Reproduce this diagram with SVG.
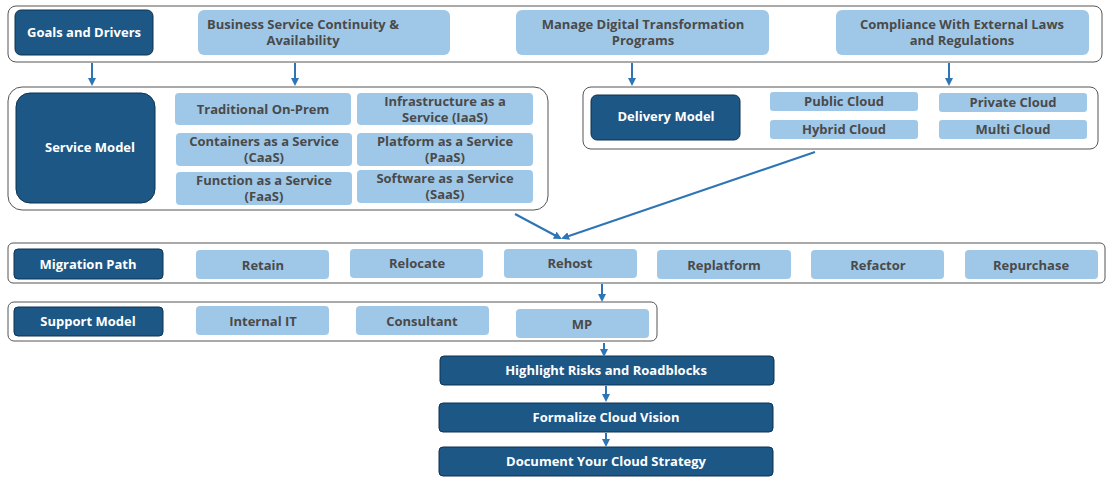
<svg xmlns="http://www.w3.org/2000/svg" width="1107" height="480" viewBox="0 0 1107 480">
<style>
.c{fill:#fff;stroke:#555;stroke-width:1}
.d{fill:#1d5786;stroke:#0f3350;stroke-width:1}
.l{fill:#9fc8e8}
text{font-family:"Open Sans","Liberation Sans",sans-serif;font-weight:bold;font-size:13px;text-anchor:middle}
.dt{fill:#fff}
.lt{fill:#4a4a4a}
.a{stroke:#2e75b6;stroke-width:2;fill:none;marker-end:url(#ah)}
</style>
<defs><marker id="ah" markerWidth="8" markerHeight="8" refX="6" refY="4" orient="auto" markerUnits="userSpaceOnUse"><path d="M0,0 L8,4 L0,8 z" fill="#2e75b6"/></marker></defs>
<rect x="0" y="0" width="1107" height="480" fill="#fff"/>
<g id="goals"><rect class="c" x="8" y="6" width="1094" height="56" rx="8"/>
<rect class="d" x="15" y="10" width="138" height="45" rx="6"/><text class="dt" x="84" y="37">Goals and Drivers</text>
<rect class="l" x="198" y="10" width="252" height="45" rx="6"/><text class="lt" x="303" y="29">Business Service Continuity &amp;</text><text class="lt" x="303" y="45">Availability</text>
<rect class="l" x="516" y="10" width="253" height="45" rx="6"/><text class="lt" x="643" y="29">Manage Digital Transformation</text><text class="lt" x="643" y="45">Programs</text>
<rect class="l" x="836" y="10" width="253" height="45" rx="6"/><text class="lt" x="962" y="29">Compliance With External Laws</text><text class="lt" x="962" y="45">and Regulations</text></g>
<g id="service"><rect class="c" x="8" y="87" width="540" height="123" rx="14"/>
<rect class="d" x="16" y="93" width="139" height="110" rx="14"/><text class="dt" x="90" y="152">Service Model</text>
<rect class="l" x="175" y="93" width="176" height="32" rx="4"/><text class="lt" x="263" y="114">Traditional On-Prem</text>
<rect class="l" x="357" y="93" width="176" height="32" rx="4"/><text class="lt" x="445" y="106">Infrastructure as a</text><text class="lt" x="445" y="122">Service (IaaS)</text>
<rect class="l" x="176" y="133" width="176" height="33" rx="4"/><text class="lt" x="264" y="146">Containers as a Service</text><text class="lt" x="264" y="162">(CaaS)</text>
<rect class="l" x="357" y="133" width="176" height="33" rx="4"/><text class="lt" x="445" y="146">Platform as a Service</text><text class="lt" x="445" y="162">(PaaS)</text>
<rect class="l" x="176" y="172" width="176" height="33" rx="4"/><text class="lt" x="264" y="185">Function as a Service</text><text class="lt" x="264" y="201">(FaaS)</text>
<rect class="l" x="357" y="170" width="176" height="33" rx="4"/><text class="lt" x="445" y="183">Software as a Service</text><text class="lt" x="445" y="199">(SaaS)</text></g>
<g id="delivery"><rect class="c" x="583" y="87" width="515" height="62" rx="8"/>
<rect class="d" x="591" y="95" width="149" height="45" rx="6"/><text class="dt" x="666" y="121">Delivery Model</text>
<rect class="l" x="770" y="92" width="148" height="19" rx="3"/><text class="lt" x="844" y="106">Public Cloud</text>
<rect class="l" x="939" y="93" width="148" height="19" rx="3"/><text class="lt" x="1013" y="107">Private Cloud</text>
<rect class="l" x="770" y="120" width="148" height="19" rx="3"/><text class="lt" x="844" y="134">Hybrid Cloud</text>
<rect class="l" x="939" y="120" width="148" height="19" rx="3"/><text class="lt" x="1013" y="134">Multi Cloud</text></g>
<g id="migration"><rect class="c" x="8" y="243" width="1097" height="40" rx="5"/>
<rect class="d" x="14" y="249" width="149" height="30" rx="4"/><text class="dt" x="88" y="269">Migration Path</text>
<rect class="l" x="196" y="250" width="133" height="29" rx="4"/><text class="lt" x="263" y="270">Retain</text>
<rect class="l" x="350" y="249" width="133" height="29" rx="4"/><text class="lt" x="417" y="268">Relocate</text>
<rect class="l" x="504" y="249" width="133" height="29" rx="4"/><text class="lt" x="570" y="268">Rehost</text>
<rect class="l" x="657" y="250" width="134" height="29" rx="4"/><text class="lt" x="724" y="270">Replatform</text>
<rect class="l" x="811" y="250" width="133" height="29" rx="4"/><text class="lt" x="878" y="270">Refactor</text>
<rect class="l" x="965" y="250" width="133" height="29" rx="4"/><text class="lt" x="1031" y="270">Repurchase</text></g>
<g id="support"><rect class="c" x="8" y="302" width="649" height="39" rx="6"/>
<rect class="d" x="14" y="307" width="149" height="29" rx="4"/><text class="dt" x="88" y="326">Support Model</text>
<rect class="l" x="196" y="306" width="133" height="29" rx="4"/><text class="lt" x="263" y="326">Internal IT</text>
<rect class="l" x="356" y="306" width="133" height="29" rx="4"/><text class="lt" x="422" y="326">Consultant</text>
<rect class="l" x="516" y="309" width="133" height="29" rx="4"/><text class="lt" x="582" y="329">MP</text></g>
<g id="risks"><rect class="d" x="440" y="356" width="334" height="29" rx="4"/><text class="dt" x="606" y="375">Highlight Risks and Roadblocks</text></g>
<g id="vision"><rect class="d" x="439" y="403" width="334" height="29" rx="4"/><text class="dt" x="606" y="422">Formalize Cloud Vision</text></g>
<g id="strategy"><rect class="d" x="439" y="447" width="334" height="29" rx="4"/><text class="dt" x="606" y="466">Document Your Cloud Strategy</text></g>
<g id="connectors">
<path class="a" d="M92,63 V84"/>
<path class="a" d="M295,63 V84"/>
<path class="a" d="M632,63 V84"/>
<path class="a" d="M949,63 V84"/>
<path class="a" d="M515,214 L560,238"/>
<path class="a" d="M815,152 L563,238"/>
<path class="a" d="M602,284 V300"/>
<path class="a" d="M604,343 V355"/>
<path class="a" d="M606,386 V400"/>
<path class="a" d="M606,433 V445"/>
</g>
</svg>
